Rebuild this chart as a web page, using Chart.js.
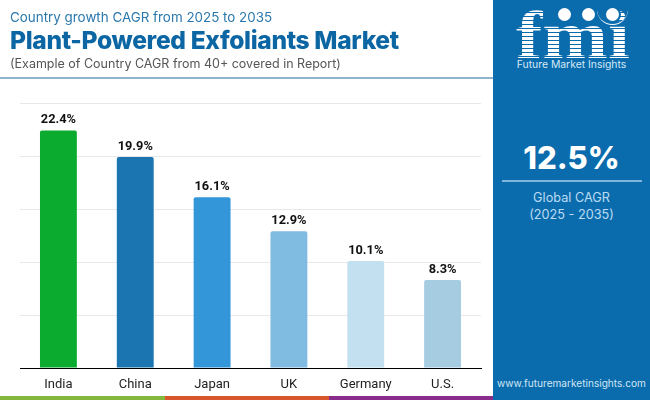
<!DOCTYPE html>
<html>
<head>
<meta charset="utf-8">
<script src="https://cdn.jsdelivr.net/npm/chart.js@4"></script>
<style>
html, body { margin: 0; padding: 0; background: #fff; }
#page { position: relative; width: 650px; height: 400px; overflow: hidden; font-family: Inter, sans-serif; }
#page div { position: absolute; white-space: nowrap; }
canvas { position: absolute; left: 0; top: 0; }
#sub { left: 10px; top: 9px; font-size: 13.4px; color: #2a78ad; }
#title { left: 10px; top: 25px; font-size: 24.6px; font-weight: 800; color: #0b66a3; letter-spacing: -0.35px; }
#note { left: 10px; top: 56px; font-size: 12.5px; color: #555; }
#rule { left: 0; top: 77px; width: 493px; height: 2px; background: #8fb3cc; }
#panel { left: 493px; top: 0; width: 157px; height: 400px; background: #0b6cad; }
#big { left: 493px; width: 157px; top: 139px; text-align: center; font-size: 31px; font-weight: 800; color: #fff; }
#line { left: 502px; top: 180px; width: 140px; height: 2px; background: #7fb5dc; }
#glob { left: 493px; width: 157px; top: 188.5px; text-align: center; font-size: 12.7px; line-height: 17.5px; color: #bcdcf3; white-space: normal; }
#web { left: 493px; width: 157px; top: 377px; text-align: center; font-size: 10.1px; color: #cfe5f5; }
#fmi { left: 516px; top: 1px; font-family: "Liberation Serif", serif; font-weight: 700; font-size: 68px; line-height: 68px; transform-origin: 0 0; transform: scaleX(1.16);
  background: repeating-linear-gradient(180deg, #fff 0 3px, #0b6cad 3px 4px); -webkit-background-clip: text; background-clip: text; color: transparent; }
#brand { left: 493px; width: 157px; top: 58px; text-align: center; font-size: 10.4px; color: #d5e8f6; }
.dot { width: 13px; height: 13px; border-radius: 50%; background: #fff; top: 7.5px; box-shadow: 0 0 0 2px #0b6cad; }
#arc { left: 597px; top: 8px; width: 31px; height: 16px; border-bottom: 1px solid #fff; border-radius: 0 0 16px 16px; }
#strip1, #strip2, #strip3 { top: 396px; height: 4px; }
#strip1 { left: 0; width: 165px; background: #85b73f; }
#strip2 { left: 165px; width: 164px; background: #d9552b; }
#strip3 { left: 329px; width: 164px; background: #8a2c8c; }
</style>
</head>
<body>
<div id="page">
  <canvas id="chart" width="650" height="400"></canvas>
  <div id="sub">Country growth CAGR from 2025 to 2035</div>
  <div id="title">Plant-Powered Exfoliants Market</div>
  <div id="note">(Example of Country CAGR from 40+ covered in Report)</div>
  <div id="rule"></div>
  <div id="panel"></div>
  <div id="fmi">fmi</div>
  <div id="arc"></div>
  <div class="dot" style="left:557.5px"></div>
  <div class="dot" style="left:581.5px"></div>
  <div class="dot" style="left:605.5px"></div>
  <div id="brand">Future Market Insights</div>
  <div id="big">12.5%</div>
  <div id="line"></div>
  <div id="glob">Global CAGR<br>(2025 - 2035)</div>
  <div id="web">www.futuremarketinsights.com</div>
  <div id="strip1"></div><div id="strip2"></div><div id="strip3"></div>
</div>
<script>
const countries = ["India", "China", "Japan", "UK", "Germany", "U.S."];
const cagr = [22.4, 19.9, 16.1, 12.9, 10.1, 8.3];
const barColors = ["#0bab2f", "#1a75b0", "#3296d8", "#80bbe2", "#c3e0f0", "#a6cce2"];

// labels above the bars
const valueLabels = {
    id: "valueLabels",
    afterDatasetsDraw(chart) {
        const ctx = chart.ctx;
        const bars = chart.getDatasetMeta(0).data;
        ctx.save();
        ctx.font = "bold 12.8px Roboto";
        ctx.fillStyle = "#111";
        ctx.textAlign = "center";
        ctx.textBaseline = "bottom";
        bars.forEach((bar, i) => {
            ctx.fillText(cagr[i].toFixed(1) + "%", bar.x, bar.y - 4);
        });
        ctx.restore();
    }
};

new Chart(document.getElementById("chart"), {
    type: "bar",
    data: {
        labels: countries,
        datasets: [{
            data: cagr,
            backgroundColor: barColors,
            barPercentage: 0.48,
            categoryPercentage: 1,
            borderRadius: { topLeft: 2, topRight: 2 },
            borderSkipped: "bottom"
        }]
    },
    options: {
        responsive: false,
        animation: false,
        layout: { padding: { left: 20, right: 169, top: 103, bottom: 0 } },
        plugins: { legend: { display: false }, tooltip: { enabled: false } },
        scales: {
            x: {
                grid: { display: false },
                border: { color: "#000", width: 1 },
                ticks: { color: "#222", font: { family: "Roboto", size: 13 }, padding: 1 },
                afterFit(scale) { scale.height = 32; }
            },
            y: {
                min: 0,
                max: 25,
                grid: { color: "#e8e8e8", drawTicks: false },
                border: { display: false },
                ticks: { stepSize: 5, display: false },
                afterFit(scale) { scale.width = 0; }
            }
        }
    },
    plugins: [valueLabels]
});
</script>
</body>
</html>
